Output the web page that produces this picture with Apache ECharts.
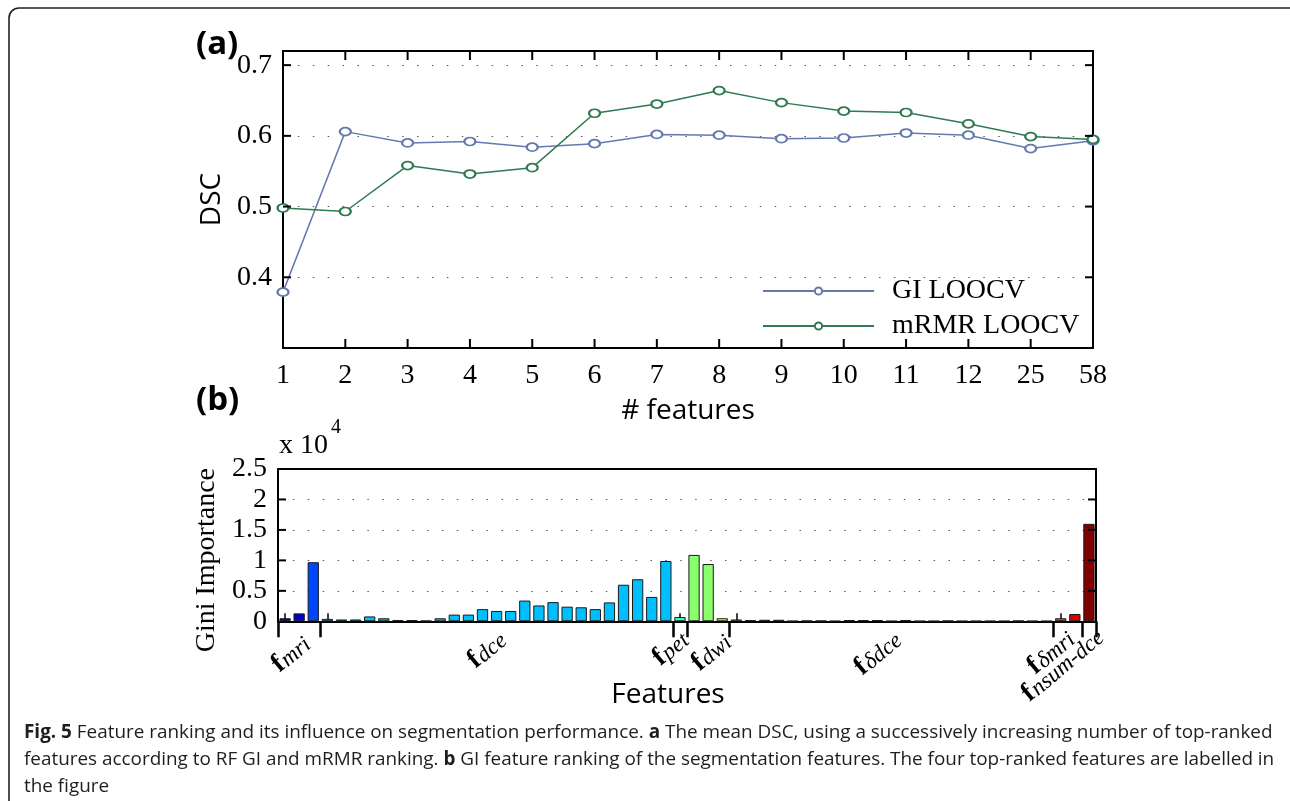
<!DOCTYPE html>
<html><head><meta charset="utf-8">
<script src="https://cdn.jsdelivr.net/npm/echarts@6/dist/echarts.min.js"></script>
<style>html,body{margin:0;padding:0;background:#fff}#c{width:1290px;height:801px}</style>
</head><body><div id="c"></div>
<script>
// ---------------- data ----------------
const featureCounts = ['1','2','3','4','5','6','7','8','9','10','11','12','25','58'];
const giLoocv   = [0.379,0.606,0.590,0.592,0.584,0.589,0.602,0.601,0.596,0.597,0.604,0.601,0.582,0.593];
const mrmrLoocv = [0.498,0.493,0.558,0.546,0.555,0.632,0.645,0.664,0.647,0.635,0.633,0.617,0.599,0.595];
const dscTicks = [0.4,0.5,0.6,0.7];

// Gini importance of the 58 features, in units of 10^4
const giImportance = [
  0.05,0.13,0.97,
  0.04,0.03,0.03,0.08,0.05,0.02,0.02,0.01,0.05,0.11,0.11,0.20,0.17,0.17,0.34,0.26,0.315,0.24,0.23,0.20,0.31,0.60,0.69,0.40,0.99,
  0.07,
  1.09,0.94,0.05,
  0.03,0.02,0.025,0.025,0.005,0.01,0.01,0.005,0.02,0.02,0.02,0.005,0.02,0.005,0.005,0.01,0.005,0.005,0.005,0.005,0.01,0.005,0.005,
  0.05,0.12,
  1.60
];
const giTicks = [0,0.5,1,1.5,2,2.5];
const groupNames = ['mri','dce','pet','dwi','δdce','δmri','nsum-dce'];
const groupSizes = [3,25,1,3,23,2,1];

// ---------------- styles ----------------
const SERIF = 'Liberation Serif';
const SANS = 'Open Sans';
const BLUE = '#6479ae';
const GREEN = '#2f7a52';
const groupColorSets = [
  ['#00008c','#0000d2','#0046ff'],
  ['#00bfff'],
  ['#40ffc0'],
  ['#8cff6e','#8cff6e','#ffff00'],
  ['#ffae00'],
  ['#ff4a00','#e00000'],
  ['#800000']
];
// where each group label ends (in category units) and its vertical placement
const labelEndAt = [1.56, 15.46, 28.37, 31.41, 43.47, 55.74, 57.80];
const labelEndY  = [640.5, 636.5, 636.5, 638.5, 636.5, 635.5, 633.5];

const featIdx = giImportance.map((v,i)=>String(i+1));
const groupStart = [];
const barColors = [];
{
  let s = 0;
  groupSizes.forEach((n,g)=>{
    groupStart.push(s);
    for (let k=0;k<n;k++){
      const set = groupColorSets[g];
      barColors.push(set[Math.min(k,set.length-1)]);
    }
    s += n;
  });
}
const sepSet = new Set(groupStart);
const dotted = () => ({type:[1.5,13.4], color:'#555', width:1});
const blk = (w) => ({color:'#000', width:w || 2});
const DSC_MIN = 0.3, DSC_MAX = 0.72;

const chart = echarts.init(document.getElementById('c'), null, {renderer:'canvas'});

const option = {
  backgroundColor:'#fff',
  animation:false,
  textStyle:{fontFamily:SERIF, color:'#000'},
  grid:[
    {left:283, right:197, top:51, height:297},
    {left:278, right:194, top:469, height:152.3}
  ],
  legend:{
    data:['GI LOOCV','mRMR LOOCV'],
    orient:'vertical', left:757, top:271,
    itemWidth:111, itemHeight:9, itemGap:5,
    textStyle:{fontFamily:SERIF, fontSize:28, color:'#000', lineHeight:30, padding:[0,0,0,13]},
    backgroundColor:'transparent'
  },
  xAxis:[
    {gridIndex:0, type:'category', data:featureCounts, boundaryGap:false, position:'bottom',
     axisLine:{show:true, lineStyle:blk(2)}, axisTick:{show:false},
     axisLabel:{fontFamily:SERIF, fontSize:28, color:'#000', margin:14, interval:0},
     splitLine:{show:false},
     name:'# features', nameLocation:'middle', nameGap:49,
     nameTextStyle:{fontFamily:SANS, fontSize:28, color:'#000'}},
    {gridIndex:0, type:'category', data:featureCounts, boundaryGap:false, position:'top',
     axisLine:{show:true, lineStyle:blk(2)}, axisTick:{show:false},
     axisLabel:{show:false}, splitLine:{show:false}},
    {gridIndex:1, type:'category', data:featIdx, boundaryGap:true, position:'bottom',
     axisLine:{show:true, lineStyle:blk(2)},
     axisTick:{show:true, inside:true, length:8, alignWithLabel:true, lineStyle:blk(1.5),
               interval:(i)=>sepSet.has(i)},
     axisLabel:{show:false}, splitLine:{show:false},
     name:'Features', nameLocation:'middle', nameGap:60,
     nameTextStyle:{fontFamily:SANS, fontSize:28, color:'#000', padding:[0,38,0,0]}},
    {gridIndex:1, type:'category', data:featIdx, boundaryGap:true, position:'bottom',
     axisLine:{show:false},
     axisTick:{show:true, inside:false, length:16, lineStyle:blk(2.5),
               interval:(i)=>sepSet.has(i)},
     axisLabel:{show:false}, splitLine:{show:false}},
    {gridIndex:1, type:'category', data:featIdx, boundaryGap:true, position:'top',
     axisLine:{show:true, lineStyle:blk(2)}, axisTick:{show:false}, axisLabel:{show:false}, splitLine:{show:false}}
  ],
  yAxis:[
    {gridIndex:0, type:'value', min:DSC_MIN, max:DSC_MAX, interval:0.1, position:'left',
     axisLine:{show:true, lineStyle:blk(2)}, axisTick:{show:false},
     axisLabel:{fontFamily:SERIF, fontSize:28, color:'#000', margin:11,
       formatter:(v)=>dscTicks.some(t=>Math.abs(t-v)<1e-6)? v.toFixed(1):''},
     splitLine:{show:true, lineStyle:dotted()},
     name:'DSC', nameLocation:'middle', nameGap:46,
     nameTextStyle:{fontFamily:SANS, fontSize:28, color:'#000'}},
    {gridIndex:0, type:'value', min:DSC_MIN, max:DSC_MAX, interval:0.1, position:'right',
     axisLine:{show:true, lineStyle:blk(2)}, axisTick:{show:false},
     axisLabel:{show:false}, splitLine:{show:false}},
    {gridIndex:1, type:'value', min:0, max:2.5, interval:0.5, position:'left',
     axisLine:{show:true, lineStyle:blk(2)}, axisTick:{show:false},
     axisLabel:{fontFamily:SERIF, fontSize:28, color:'#000', margin:11,
       formatter:(v)=>giTicks.some(t=>Math.abs(t-v)<1e-6)? String(v):''},
     splitLine:{show:true, lineStyle:dotted()},
     name:'Gini Importance', nameLocation:'middle', nameGap:32,
     nameTextStyle:{fontFamily:SERIF, fontSize:28, color:'#000', padding:[0,30,0,0]}},
    {gridIndex:1, type:'value', min:0, max:2.5, interval:0.5, position:'right',
     axisLine:{show:true, lineStyle:blk(2)}, axisTick:{show:false},
     axisLabel:{show:false}, splitLine:{show:false}}
  ],
  series:[
    {name:'GI LOOCV', type:'line', xAxisIndex:0, yAxisIndex:0, data:giLoocv,
     symbol:'emptyCircle', symbolSize:[11,8], showAllSymbol:true,
     lineStyle:{color:BLUE, width:1.5}, itemStyle:{color:BLUE, borderColor:BLUE, borderWidth:1.5}, z:3},
    {name:'mRMR LOOCV', type:'line', xAxisIndex:0, yAxisIndex:0, data:mrmrLoocv,
     symbol:'emptyCircle', symbolSize:[11,8], showAllSymbol:true,
     lineStyle:{color:GREEN, width:1.5}, itemStyle:{color:GREEN, borderColor:GREEN, borderWidth:1.5}, z:3},
    {name:'GI', type:'bar', xAxisIndex:2, yAxisIndex:2,
     data:giImportance.map((v,i)=>({value:v, itemStyle:{color:barColors[i]}})),
     barWidth:'80%', itemStyle:{borderColor:'#1a1a1a', borderWidth:1}, z:3}
  ],
  graphic:[]
};
chart.setOption(option);

// ----- annotations -----
const px = (ax, v) => chart.convertToPixel({xAxisIndex:ax}, v);
const py = (ax, v) => chart.convertToPixel({yAxisIndex:ax}, v);
const p0 = px(2, 0);
const p1 = px(2, giImportance.length - 1);
const band = (p1 - p0) / (giImportance.length - 1);
const labelRich = {
  f:{fontFamily:SERIF, fontWeight:'bold', fontSize:27, color:'#000', lineHeight:27, verticalAlign:'top'},
  s:{fontFamily:SERIF, fontStyle:'italic', fontSize:23, color:'#000', lineHeight:23, padding:[10,0,0,1], verticalAlign:'bottom'}
};
const tickLine = (x1,y1,x2,y2) => ({type:'line', silent:true, z:50,
  shape:{x1:x1,y1:y1,x2:x2,y2:y2}, style:{stroke:'#000', lineWidth:2}});
const graphics = [
  {type:'rect', shape:{x:9, y:8, width:1320, height:830, r:10},
   style:{fill:'none', stroke:'#222', lineWidth:1.6}, silent:true},
  {type:'text', x:196, y:45, style:{text:'(a)', font:'bold 33px "Open Sans"', fill:'#000', verticalAlign:'middle'}},
  {type:'text', x:196, y:401, style:{text:'(b)', font:'bold 33px "Open Sans"', fill:'#000', verticalAlign:'middle'}},
  {type:'text', x:279, y:446, style:{text:'x 10', font:'28px "Liberation Serif"', fill:'#000', verticalAlign:'middle'}},
  {type:'text', x:331, y:428, style:{text:'4', font:'20px "Liberation Serif"', fill:'#000', verticalAlign:'middle'}},
  {type:'text', x:24, y:719, style:{
    text:'{b|Fig. 5} Feature ranking and its influence on segmentation performance. {b|a} The mean DSC, using a successively increasing number of top-ranked\nfeatures according to RF GI and mRMR ranking. {b|b} GI feature ranking of the segmentation features. The four top-ranked features are labelled in\nthe figure',
    fontFamily:SANS, fontSize:18.9, fill:'#1e1e1e', lineHeight:27, verticalAlign:'top',
    rich:{b:{fontFamily:SANS, fontWeight:'bold', fontSize:18.9, fill:'#1e1e1e', lineHeight:27}}}}
];
// inward box ticks of panel (a), placed through the axes' own scales
{
  const L = px(0, 0), R = px(0, featureCounts.length - 1);
  const B = py(0, DSC_MIN), T = py(0, DSC_MAX);
  featureCounts.forEach((c,i)=>{
    const x = px(0, i);
    graphics.push(tickLine(x, B, x, B - 9), tickLine(x, T, x, T + 9));
  });
  dscTicks.forEach(v=>{
    const y = py(0, v);
    graphics.push(tickLine(L, y, L + 8, y), tickLine(R, y, R - 8, y));
  });
}
// inward value ticks of panel (b)
{
  const L = p0 - band/2, R = p1 + band/2;
  giTicks.filter(v=>v>0 && v<2.5).forEach(v=>{
    const y = py(2, v);
    graphics.push(tickLine(L, y, L + 8, y), tickLine(R, y, R - 8, y));
  });
}
groupNames.forEach((n,g)=>{
  const x = p0 + labelEndAt[g]*band;
  graphics.push({type:'text', x:x, y:labelEndY[g], rotation:40*Math.PI/180,
    style:{text:'{f|f}{s|'+n+'}', align:'right', verticalAlign:'middle', rich:labelRich}});
});
chart.setOption({graphic:graphics});
</script></body></html>
